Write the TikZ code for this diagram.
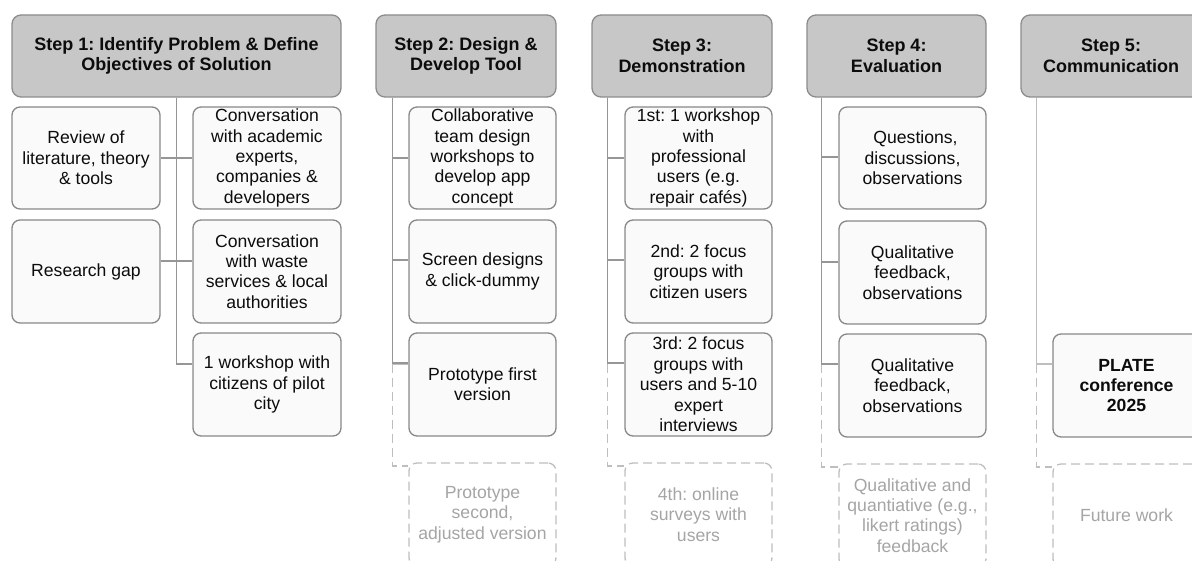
\documentclass[tikz,border=0pt]{standalone}
\usepackage{fontspec}
\setmainfont{Liberation Sans}
\usetikzlibrary{calc}
\frenchspacing

\definecolor{headfill}{RGB}{199,199,199}
\definecolor{headline}{RGB}{140,140,140}
\definecolor{boxfill}{RGB}{250,250,250}
\definecolor{boxline}{RGB}{136,136,136}
\definecolor{wireline}{RGB}{150,150,150}
\definecolor{wirelight}{RGB}{190,190,190}
\definecolor{planline}{RGB}{190,190,190}
\definecolor{plantext}{RGB}{165,165,165}
\definecolor{inktext}{RGB}{12,12,12}

\tikzset{
  txt/.style={font=\fontsize{17.6pt}{20.4pt}\selectfont, align=center, text=inktext},
  headbox/.style={txt, font=\fontsize{18pt}{20.6pt}\selectfont\bfseries,
    draw=headline, fill=headfill, line width=1.3pt, rounded corners=9pt,
    minimum height=82pt, inner sep=0pt},
  itembox/.style={txt, draw=boxline, fill=boxfill, line width=1.3pt,
    rounded corners=8pt, minimum width=147pt, inner sep=0pt},
  planbox/.style={itembox, draw=planline, fill=white, text=plantext,
    dash pattern=on 9pt off 5pt},
  wire/.style={draw=wireline, line width=1.3pt},
  planwire/.style={draw=planline, line width=1.3pt, dash pattern=on 9pt off 5pt},
  softwire/.style={draw=wirelight, line width=1.3pt},
}

\begin{document}
\begin{tikzpicture}[x=1pt,y=-1pt]
\useasboundingbox (0,0) rectangle (1192,561);
\clip (0,0) rectangle (1192,561);

% ---------- column headers ----------
\node[headbox, minimum width=329pt] (h1) at (176.5,56) {Step 1: Identify Problem \& Define\\Objectives of Solution};
\node[headbox, minimum width=180pt] (h2) at (466,56) {Step 2: Design \&\\Develop Tool};
\node[headbox, minimum width=180pt] (h3) at (682,56) {Step 3:\\Demonstration};
\node[headbox, minimum width=179pt] (h4) at (896.5,56) {Step 4:\\Evaluation};
\node[headbox, minimum width=180pt] (h5) at (1111,56) {Step 5:\\Communication};

% ---------- step 1 ----------
\node[itembox, minimum width=148pt, minimum height=102pt] (review) at (86,158) {Review of\\literature, theory\\\& tools};
\node[itembox, minimum width=148pt, minimum height=103pt] (gap) at (86,271.5) {Research gap};
\node[itembox, minimum width=148pt, minimum height=102pt] (convA) at (267,158) {Conversation\\with academic\\experts,\\companies \&\\developers};
\node[itembox, minimum width=148pt, minimum height=103pt] (convW) at (267,271.5) {Conversation\\with waste\\services \& local\\authorities};
\node[itembox, minimum width=148pt, minimum height=103pt] (wsC) at (267,384.5) {1 workshop with\\citizens of pilot\\city};

\draw[wire] (h1.south) |- ([yshift=20.5pt]wsC.west);
\draw[wire] (review.east) -- (convA.west);
\draw[wire] ([yshift=10.5pt]gap.east) -- ([yshift=10.5pt]convW.west);

% ---------- step 2 ----------
\node[itembox, minimum height=102pt] (s2a) at (482.5,158) {Collaborative\\team design\\workshops to\\develop app\\concept};
\node[itembox, minimum height=103pt] (s2b) at (482.5,271.5) {Screen designs\\\& click-dummy};
\node[itembox, minimum height=103pt] (s2c) at (482.5,384.5) {Prototype first\\version};
\node[planbox, minimum height=103pt] (s2d) at (482.5,514.5) {Prototype\\second,\\adjusted version};

% ---------- step 3 ----------
\node[itembox, minimum height=102pt] (s3a) at (698.5,158) {1st: 1 workshop\\with\\professional\\users (e.g.\\repair cafés)};
\node[itembox, minimum height=103pt] (s3b) at (698.5,271.5) {2nd: 2 focus\\groups with\\citizen users};
\node[itembox, minimum height=103pt] (s3c) at (698.5,384.5) {3rd: 2 focus\\groups with\\users and 5-10\\expert\\interviews};
\node[planbox, minimum height=103pt] (s3d) at (698.5,514.5) {4th: online\\surveys with\\users};

% ---------- step 4 ----------
\node[itembox, minimum height=102pt] (s4a) at (912.5,158) {\hspace*{6pt}Questions,\\discussions,\\observations};
\node[itembox, minimum height=103pt] (s4b) at (912.5,272.5) {Qualitative\\feedback,\\observations};
\node[itembox, minimum height=103pt] (s4c) at (912.5,385.5) {Qualitative\\feedback,\\observations};
\node[planbox, minimum height=103pt] (s4d) at (912.5,515.5) {Qualitative and\\quantiative (e.g.,\\likert ratings)\\feedback};

% ---------- step 5 ----------
\node[itembox, minimum height=103pt, font=\fontsize{17.6pt}{20.4pt}\selectfont\bfseries] (s5c) at (1126.5,385.5) {PLATE\\conference\\2025};
\node[planbox, minimum height=103pt] (s5d) at (1126.5,515.5) {Future work};

% ---------- trunks of steps 2 to 5 ----------
\foreach \h/\off in {h2/17, h3/16, h4/15, h5/16}
  \coordinate (\h-root) at ([xshift=\off pt]\h.south west);

% step 2
\draw[softwire] (h2-root) |- ([yshift=20.5pt]s2c.west);
\draw[planwire] (h2-root) |- ([yshift=48.5pt]s2d.west);
\draw[wire] (h2-root) |- (s2a.west);
\draw[wire] (h2-root) |- ([yshift=11.5pt]s2b.west);
\draw[wire] (h2-root) |- ([yshift=21.5pt]s2c.west);

% step 3
\draw[planwire] (h3-root) |- ([yshift=48.5pt]s3d.west);
\draw[wire] (h3-root) |- (s3a.west);
\draw[wire] (h3-root) |- ([yshift=11.5pt]s3b.west);
\draw[wire] (h3-root) |- ([yshift=21.5pt]s3c.west);

% step 4
\draw[softwire] (h4-root) |- ([yshift=21.5pt]s4c.west);
\draw[planwire] (h4-root) |- ([yshift=48.5pt]s4d.west);
\draw[wire] (h4-root) |- ([yshift=1pt]s4a.west);
\draw[wire] (h4-root) |- ([yshift=10.5pt]s4b.west);
\draw[wire] (h4-root) |- ([yshift=21.5pt]s4c.west);

% step 5
\draw[softwire] (h5-root) |- ([yshift=21.5pt]s5c.west);
\draw[planwire] (h5-root) |- ([yshift=48.5pt]s5d.west);
\end{tikzpicture}
\end{document}
